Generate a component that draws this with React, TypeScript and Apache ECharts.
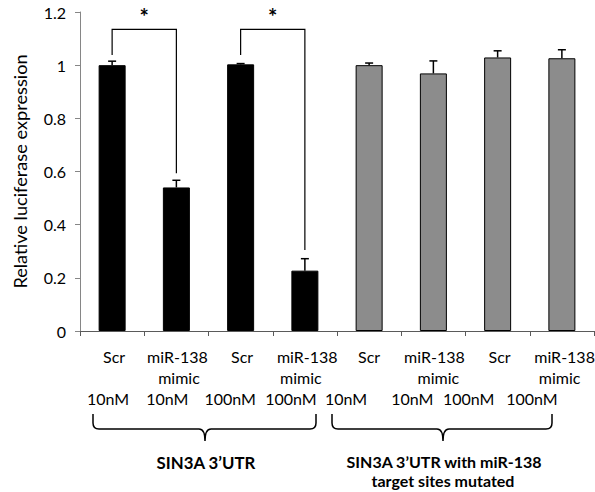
import React, { useEffect, useRef } from 'react';
import * as echarts from 'echarts';

// ---- data ----
const labelLine1 = ['Scr', 'miR-138', 'Scr', 'miR-138', 'Scr', 'miR-138', 'Scr', 'miR-138'];
const labelLine2 = ['', 'mimic', '', 'mimic', '', 'mimic', '', 'mimic'];
const labelLine3 = ['10nM', '10nM', '100nM', '100nM', '10nM', '10nM', '100nM', '100nM'];
const values = [1.0, 0.54, 1.003, 0.227, 1.0, 0.969, 1.029, 1.026];
const errors = [0.015, 0.027, 0.003, 0.045, 0.008, 0.047, 0.025, 0.032];
const groupOf = [0, 0, 0, 0, 1, 1, 1, 1];
const groupName1 = ['SIN3A 3’UTR'];
const groupName2 = ['SIN3A 3’UTR with miR-138', 'target sites mutated'];
const yMin = 0;
const yMax = 1.2;
const yInterval = 0.2;
const yName = 'Relative luciferase expression';
const bracketFrom = [0, 2];
const bracketTo = [1, 3];
const bracketTop = [1.135, 1.135];
const bracketLeftEnd = [1.038, 1.038];
const bracketRightEnd = [0.593, 0.305];
const bracketMark = ['*', '*'];

// ---- layout / style ----
const FONT = 'Lato';
const groupColors = ['#000000', '#8c8c8c'];
const SHIFT1 = [2, 1, 1.5, 2.4, 0, 1, 2, 2.7];
const SHIFT2 = [0, 2.6, 0, -4, 0, 5, 0, -2.3];
const SHIFT3 = [-4, -9, -10.5, -14, -23, -21, -29, -30];

function pad(s: number) {
  return s >= 0 ? [0, 0, 0, 2 * s] : [0, -2 * s, 0, 0];
}

function bracePath(x1: number, x2: number, xm: number, yt: number, ym: number, yp: number) {
  const r = 6;
  return `M${x1} ${yt} L${x1} ${ym - r} Q${x1} ${ym} ${x1 + r} ${ym} L${xm - r} ${ym} Q${xm} ${ym} ${xm} ${yp} Q${xm} ${ym} ${xm + r} ${ym} L${x2 - r} ${ym} Q${x2} ${ym} ${x2} ${ym - r} L${x2} ${yt}`;
}

let registered = false;
function registerBraces() {
  if (registered) return;
  registered = true;
  echarts.graphic.registerShape('braceL', echarts.graphic.extendPath(bracePath(93, 316, 205, 414, 429, 441), {}) as any);
  echarts.graphic.registerShape('braceR', echarts.graphic.extendPath(bracePath(332, 552, 443, 414, 429, 441), {}) as any);
}

function boldText(text: string, x: number, y: number, size: number) {
  return {
    type: 'text',
    x,
    y,
    style: {
      text,
      fontFamily: FONT,
      fontSize: size,
      fontWeight: 'bold',
      fill: '#000',
      align: 'center',
      verticalAlign: 'middle',
    },
  };
}

export default function App() {
  const ref = useRef<HTMLDivElement>(null);
  useEffect(() => {
    document.body.style.margin = '0';
    registerBraces();
    const chart = echarts.init(ref.current!, undefined, { renderer: 'svg' });
    const rich: any = {};
    labelLine1.forEach((_, i) => {
      const base = { fontFamily: FONT, fontSize: 16, color: '#000', lineHeight: 21 };
      rich['a' + i] = { ...base, padding: pad(SHIFT1[i]) };
      rich['b' + i] = { ...base, padding: pad(SHIFT2[i]) };
      rich['c' + i] = { ...base, padding: pad(SHIFT3[i]) };
    });
    const option: any = {
      animation: false,
      grid: { left: 80, right: 1, top: 12, bottom: 161, containLabel: false, outerBoundsMode: 'none' },
      xAxis: {
        type: 'category',
        data: labelLine1.map((_, i) => String(i)),
        axisLine: { show: true, lineStyle: { color: '#5a5a5a', width: 1 } },
        axisTick: { show: true, length: 5, alignWithLabel: false, lineStyle: { color: '#5a5a5a' } },
        axisLabel: {
          interval: 0,
          margin: 15,
          fontFamily: FONT,
          fontSize: 16,
          color: '#000',
          formatter: (_v: string, i: number) =>
            `{a${i}|${labelLine1[i]}}\n{b${i}|${labelLine2[i] || ' '}}\n{c${i}|${labelLine3[i]}}`,
          rich,
        },
      },
      yAxis: {
        type: 'value',
        min: yMin,
        max: yMax,
        interval: yInterval,
        name: yName,
        nameLocation: 'middle',
        nameGap: 51,
        nameTextStyle: { fontFamily: FONT, fontSize: 18.2, color: '#000' },
        splitLine: { show: false },
        axisLine: { show: true, lineStyle: { color: '#868686' } },
        axisTick: { show: true, length: 5, lineStyle: { color: '#868686' } },
        axisLabel: {
          margin: 14,
          fontFamily: FONT,
          fontSize: 16,
          color: '#000',
          formatter: (v: number) => String(Math.round(v * 10) / 10),
        },
      },
      series: [
        {
          type: 'bar',
          barWidth: 27,
          data: values.map((v, i) => ({
            value: v,
            itemStyle: { color: groupColors[groupOf[i]], borderColor: '#000', borderWidth: 1 },
          })),
          z: 2,
        },
        {
          type: 'custom',
          z: 3,
          data: values.map((v, i) => [i, v, errors[i]]),
          renderItem: (_p: any, api: any) => {
            const i = api.value(0);
            const v = api.value(1);
            const e = api.value(2);
            const b = api.coord([i, v]);
            const t = api.coord([i, v + e]);
            const cap = 4;
            const style = { stroke: '#000', lineWidth: 1.5 };
            return {
              type: 'group',
              children: [
                { type: 'line', shape: { x1: b[0], y1: b[1], x2: t[0], y2: t[1] }, style },
                { type: 'line', shape: { x1: t[0] - cap, y1: t[1], x2: t[0] + cap, y2: t[1] }, style },
              ],
            };
          },
        },
        {
          type: 'custom',
          z: 3,
          data: bracketFrom.map((f, k) => [f, bracketTo[k], bracketTop[k], bracketLeftEnd[k], bracketRightEnd[k], k]),
          renderItem: (_p: any, api: any) => {
            const f = api.value(0);
            const to = api.value(1);
            const top = api.value(2);
            const le = api.value(3);
            const re = api.value(4);
            const k = api.value(5);
            const pl = api.coord([f, le]);
            const tl = api.coord([f, top]);
            const tr = api.coord([to, top]);
            const pr = api.coord([to, re]);
            return {
              type: 'group',
              children: [
                {
                  type: 'polyline',
                  shape: { points: [pl, tl, tr, pr] },
                  style: { stroke: '#000', lineWidth: 1.2, fill: 'none' },
                },
                {
                  type: 'text',
                  x: (tl[0] + tr[0]) / 2,
                  y: tl[1] - 13,
                  style: {
                    text: bracketMark[k],
                    fontFamily: FONT,
                    fontSize: 22,
                    fontWeight: 'bold',
                    fill: '#000',
                    align: 'center',
                    verticalAlign: 'middle',
                  },
                },
              ],
            };
          },
        },
      ],
      graphic: [
        { type: 'braceL', x: 0, y: 0, style: { stroke: '#000', fill: 'none', lineWidth: 1.5 } },
        { type: 'braceR', x: 0, y: 0, style: { stroke: '#000', fill: 'none', lineWidth: 1.5 } },
        boldText(groupName1[0], 206, 462, 16.8),
        boldText(groupName2[0], 444, 461, 16),
        boldText(groupName2[1], 443, 480.4, 16),
      ],
    };
    chart.setOption(option);
    return () => chart.dispose();
  }, []);
  return <div ref={ref} style={{ position: 'absolute', left: 0, top: 0, width: 595, height: 492 }} />;
}
